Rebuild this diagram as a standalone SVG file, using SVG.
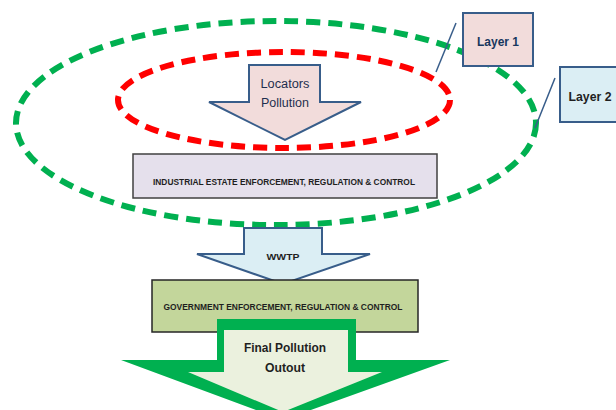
<svg xmlns="http://www.w3.org/2000/svg" width="616" height="410" viewBox="0 0 616 410">
<style>
.ring{fill:none;stroke-width:6;stroke-dasharray:14 8}
.lbl{font-family:"Liberation Sans",Arial,sans-serif;text-anchor:middle;dominant-baseline:central}
.blue{stroke:#385d8a;stroke-width:2}
.conn{stroke:#385d8a;stroke-width:1.5;fill:none}
</style>
<rect width="616" height="410" fill="#ffffff"/>
<g id="layer2-ring"><ellipse class="ring" cx="276" cy="123" rx="260" ry="102" stroke="#00b050"/></g>
<g id="layer1-ring"><ellipse class="ring" cx="284" cy="100" rx="166" ry="48" stroke="#ff0000"/></g>
<g id="connectors">
<line class="conn" x1="456" y1="23" x2="436" y2="72"/>
<line class="conn" x1="555" y1="78" x2="535" y2="128"/>
</g>
<g id="locators">
<polygon class="blue" fill="#f2dcdb" points="249,65 320,65 320,102 361,102 285,140 209,102 249,102"/>
<text class="lbl" x="285" y="84" font-size="12" fill="#1f2f4f" textLength="49" lengthAdjust="spacingAndGlyphs">Locators</text>
<text class="lbl" x="285" y="103" font-size="12" fill="#1f2f4f" textLength="48" lengthAdjust="spacingAndGlyphs">Pollution</text>
</g>
<g id="industrial">
<rect x="133" y="154" width="304" height="44" fill="#e5e0ec" stroke="#404040" stroke-width="1.5"/>
<text class="lbl" x="284" y="182" font-size="8.5" font-weight="bold" fill="#1f1f1f" textLength="262" lengthAdjust="spacingAndGlyphs">INDUSTRIAL  ESTATE ENFORCEMENT,  REGULATION  &amp; CONTROL</text>
</g>
<g id="wwtp">
<polygon class="blue" fill="#dbeef4" points="244,228 322,228 322,254 370,254 283,284 197,254 244,254"/>
<text class="lbl" x="283" y="256" font-size="9.5" font-weight="bold" fill="#1f1f1f" textLength="33" lengthAdjust="spacingAndGlyphs">WWTP</text>
</g>
<g id="government">
<rect x="152" y="280" width="266" height="52" fill="#c3d69b" stroke="#262626" stroke-width="1.5"/>
<text class="lbl" x="283" y="307" font-size="8.5" font-weight="bold" fill="#1f1f1f" textLength="239" lengthAdjust="spacingAndGlyphs">GOVERNMENT  ENFORCEMENT,  REGULATION  &amp; CONTROL</text>
</g>
<g id="final">
<polygon fill="#00b050" points="217,319 356,319 356,360 450,360 283,420 121,360 217,360"/>
<polygon fill="#ebf1de" points="224,330 348,330 348,372 382,372 283,412 188,372 224,372"/>
<text class="lbl" x="285" y="347" font-size="13.5" font-weight="bold" fill="#1f1f1f" textLength="82" lengthAdjust="spacingAndGlyphs">Final Pollution</text>
<text class="lbl" x="285" y="367" font-size="13.5" font-weight="bold" fill="#1f1f1f" textLength="40" lengthAdjust="spacingAndGlyphs">Outout</text>
</g>
<g id="layer1">
<rect class="blue" x="463" y="13" width="70" height="53" fill="#f2dcdb"/>
<text class="lbl" x="498" y="42" font-size="12.5" font-weight="bold" fill="#17375e" textLength="42" lengthAdjust="spacingAndGlyphs">Layer 1</text>
</g>
<g id="layer2">
<rect class="blue" x="560" y="67" width="60" height="55" fill="#dbeef4"/>
<text class="lbl" x="590" y="96" font-size="13" font-weight="bold" fill="#1f1f1f" textLength="43" lengthAdjust="spacingAndGlyphs">Layer 2</text>
</g>
</svg>
